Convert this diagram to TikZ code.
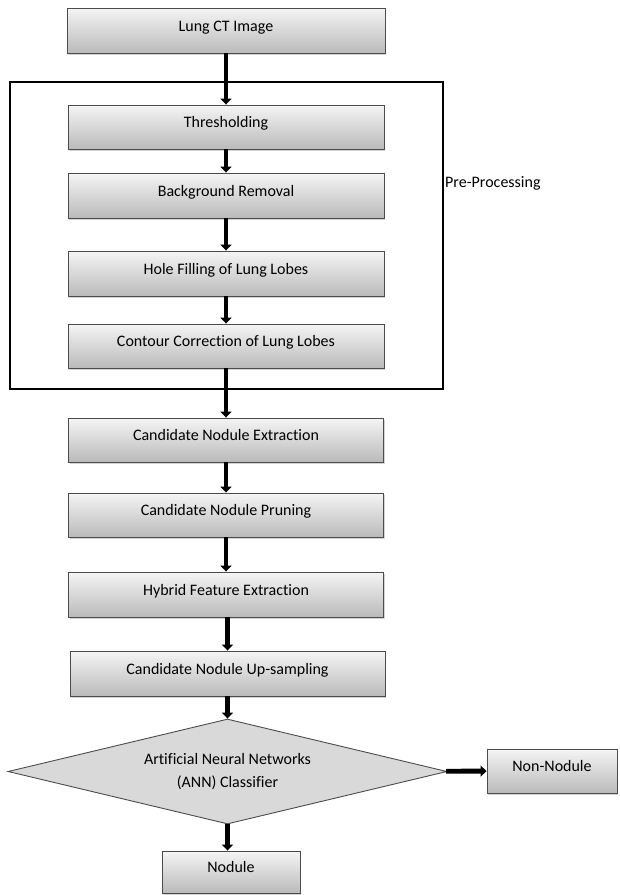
\documentclass[tikz,border=0pt]{standalone}
\usepackage{fontspec}
\setmainfont{Carlito}[Ligatures=NoCommon]
\usetikzlibrary{arrows.meta,shapes.geometric,shadows}
\begin{document}
\begin{tikzpicture}[x=1pt,y=-1pt,
  font=\fontsize{16}{22}\selectfont,
  procbox/.style={draw=black!70, line width=0.9pt, top color=black!4, bottom color=black!27,
    drop shadow={shadow xshift=1.2pt, shadow yshift=-1.8pt, opacity=0.35},
    inner sep=0pt, text height=10pt, text depth=9pt, align=center},
  arr/.style={line width=4.8pt, -{Triangle[width=11pt,length=6pt]}},
  frame/.style={draw=black, line width=2.6pt, inner sep=0pt}]
\useasboundingbox (0,0) rectangle (619,895);
\node[procbox, minimum width=318pt, minimum height=45pt] (lung) at (226,30.5) {Lung CT Image};
\node[frame, minimum width=433pt, minimum height=307pt] (frm) at (226.5,235.5) {};
\node[anchor=west, inner sep=0pt] (pp) at (445,183) {Pre-Processing};
\node[procbox, minimum width=316pt, minimum height=44pt] (thr) at (226,127) {Thresholding};
\node[procbox, minimum width=316pt, minimum height=45pt] (bg) at (226,195.5) {Background Removal};
\node[procbox, minimum width=316pt, minimum height=45pt] (hole) at (226,273.5) {Hole Filling of Lung Lobes};
\node[procbox, minimum width=316pt, minimum height=44pt] (cont) at (226,346) {Contour Correction of Lung Lobes};
\node[procbox, minimum width=315pt, minimum height=44pt] (cne) at (226,440) {Candidate Nodule Extraction};
\node[procbox, minimum width=315pt, minimum height=44pt] (cnp) at (226,515) {Candidate Nodule Pruning};
\node[procbox, minimum width=315pt, minimum height=45pt] (hfe) at (226,594.5) {Hybrid Feature Extraction};
\node[procbox, minimum width=315pt, minimum height=45pt] (ups) at (227.5,673.5) {Candidate Nodule Up-sampling};
\node[diamond, draw=black!70, line width=0.9pt, fill=black!15, shape aspect=4.18,
  minimum width=439pt, minimum height=105pt,
  inner sep=0pt, align=center] (dia) at (227.5,771.5) {\raisebox{-2pt}{\shortstack{Artificial Neural Networks\\[8pt](ANN) Classifier}}};
\node[procbox, minimum width=130pt, minimum height=44pt] (non) at (552,771) {Non-Nodule};
\node[procbox, minimum width=138pt, minimum height=42pt] (nod) at (231,872) {Nodule};
\draw[arr] (lung) -- (thr);
\draw[arr] (thr) -- (bg);
\draw[arr] (bg) -- (hole);
\draw[arr] (hole) -- (cont);
\draw[arr] (cont) -- (cne);
\draw[arr] (cne) -- (cnp);
\draw[arr] (cnp) -- (hfe);
\draw[arr] (hfe.south -| ups.north) -- (ups);
\draw[arr] (ups) -- (dia);
\draw[arr] (dia) -- (non);
\draw[arr] (dia.south) -- (dia.south |- nod.north);
\end{tikzpicture}
\end{document}
